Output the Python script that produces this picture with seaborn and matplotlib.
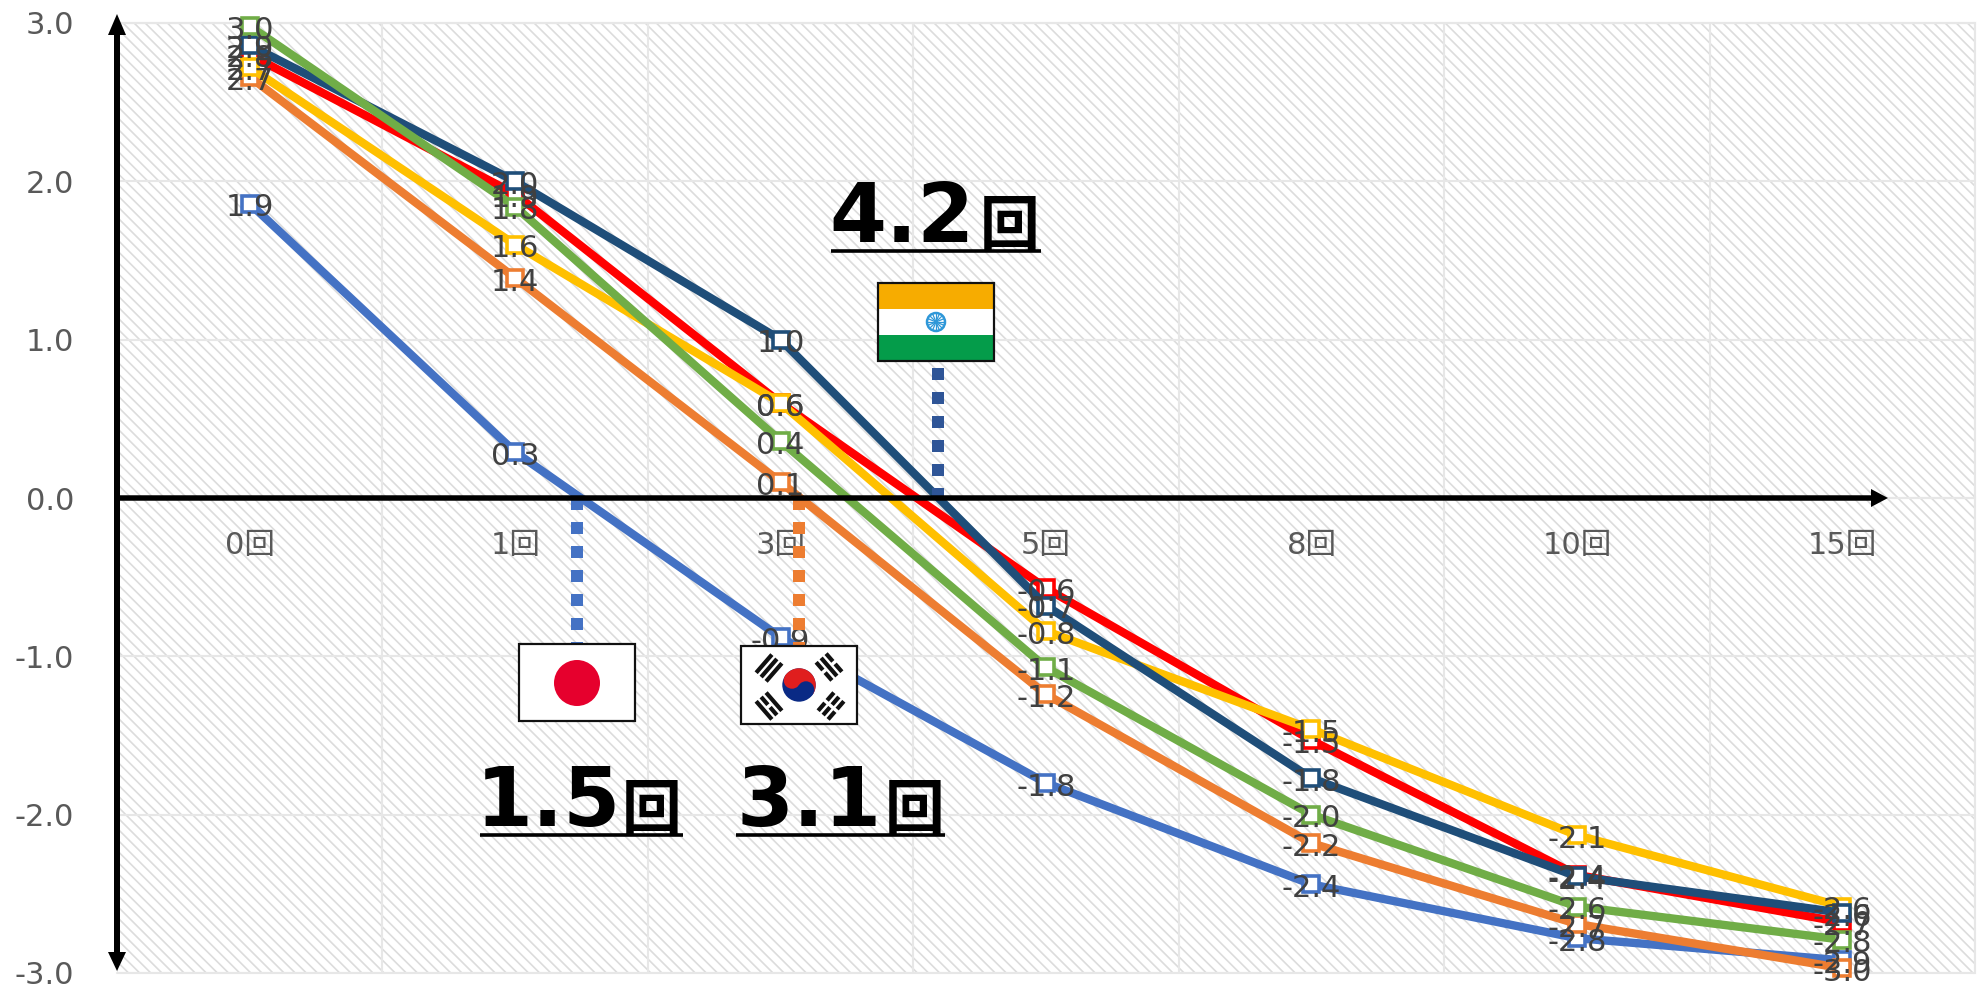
import numpy as np
import pandas as pd
import matplotlib
matplotlib.use("Agg")
import matplotlib.pyplot as plt
from matplotlib.patches import Rectangle, Circle, Polygon
import seaborn as sns

# Vaccination doses on the x axis, one series per country
doses = ["0回", "1回", "3回", "5回", "8回", "10回", "15回"]
japan = [1.86, 0.29, -0.88, -1.80, -2.44, -2.78, -2.92]
korea = [2.66, 1.39, 0.10, -1.24, -2.18, -2.69, -2.97]
series_d = [2.80, 1.92, 0.60, -0.57, -1.53, -2.38, -2.68]
series_c = [2.72, 1.60, 0.60, -0.84, -1.46, -2.13, -2.58]
india = [2.86, 2.00, 1.00, -0.68, -1.77, -2.39, -2.62]
series_f = [2.98, 1.84, 0.36, -1.07, -2.00, -2.58, -2.79]
series_values = {"japan": japan, "korea": korea, "d": series_d,
                 "c": series_c, "india": india, "f": series_f}
series_colors = {"japan": "#4472C4", "korea": "#ED7D31", "c": "#FFC000",
                 "d": "#FF0000", "india": "#1F4E79", "f": "#70AD47"}
y_ticks = [-3, -2, -1, 0, 1, 2, 3]

W, H = 1980, 986
TEXT_FONT = ["DejaVu Sans", "Noto Sans CJK JP"]

sns.set_theme(style="white")
plt.rcParams["font.family"] = TEXT_FONT
plt.rcParams["hatch.linewidth"] = 1.2
plt.rcParams["axes.unicode_minus"] = False

df = pd.DataFrame(
    [(name, d, v) for name, vals in series_values.items() for d, v in zip(doses, vals)],
    columns=["series", "dose", "value"],
)

fig = plt.figure(figsize=(W / 100, H / 100), dpi=100, facecolor="white")
L, R, T, B = 117, 1975, 23, 973
ax = fig.add_axes([L / W, 1 - B / H, (R - L) / W, (B - T) / H])

ax.patch.set_facecolor("white")
ax.patch.set_edgecolor("#dcdcdc")
ax.patch.set_hatch("\\\\\\")
ax.patch.set_linewidth(0)

sns.lineplot(data=df, x="dose", y="value", hue="series", hue_order=list(series_values),
             palette=series_colors, sort=False, legend=False, estimator=None,
             marker="s", markersize=11.5, linewidth=6, ax=ax, zorder=3, clip_on=False)
for line in ax.lines:
    line.set_markerfacecolor("white")
    line.set_markeredgecolor(line.get_color())
    line.set_markeredgewidth(2.6)

# Value labels sit right on top of the markers
for name, vals in series_values.items():
    for i, v in enumerate(vals):
        ax.annotate(f"{v:.1f}", (i, v), xytext=(0, -3), textcoords="offset points",
                    ha="center", va="center", fontsize=22, color="#404040",
                    zorder=6, annotation_clip=False)

ax.set_xlim(-0.5, 6.5)
ax.set_ylim(-3, 3)
ax.set_xlabel("")
ax.set_ylabel("")
ax.set_yticks(y_ticks)
ax.set_yticklabels([f"{t:.1f}" for t in y_ticks])
ax.set_xticks(range(len(doses)))
ax.set_xticklabels(doses)
ax.set_xticks(np.arange(-0.5, 7, 0.5), minor=True)
ax.tick_params(axis="y", length=0, pad=31, labelsize=22, labelcolor="#595959")
ax.tick_params(axis="x", which="both", length=0, pad=24, labelsize=22, labelcolor="#595959")
ax.grid(True, which="major", axis="y", color="#e7e7e7", lw=1.5, zorder=1)
ax.grid(True, which="minor", axis="x", color="#e7e7e7", lw=1.5, zorder=1)
ax.set_axisbelow(True)
for side, spine in ax.spines.items():
    spine.set_color("#e7e7e7")
    spine.set_linewidth(1.5)
ax.spines["left"].set_visible(False)
ax.spines["bottom"].set_position(("data", 0))
ax.plot([0, 1], [0, 0], transform=ax.transAxes, color="#e7e7e7", lw=1.5, zorder=1, clip_on=False)
ax.plot([0, 1], [1, 1], transform=ax.transAxes, color="#e7e7e7", lw=1.5, zorder=1, clip_on=False)

# Overlay in pixel coordinates for the axis arrows, call-outs and flags
ov = fig.add_axes([0, 0, 1, 1])
ov.set_xlim(0, W)
ov.set_ylim(H, 0)
ov.axis("off")
ov.patch.set_visible(False)


def px_lw(px):
    return px * 72 / 100


def drop_line(x, y0, y1, color):
    ov.plot([x, x], [y0, y1], color=color, lw=px_lw(12), dash_capstyle="butt",
            dashes=(1.0, 1.0), zorder=0.5)


def flag_frame(x0, y0, x1, y1, face="white"):
    ov.add_patch(Rectangle((x0, y0), x1 - x0, y1 - y0, facecolor=face, edgecolor="none", zorder=3))


def flag_border(x0, y0, x1, y1):
    ov.add_patch(Rectangle((x0, y0), x1 - x0, y1 - y0, facecolor="none",
                           edgecolor="#111111", lw=px_lw(2.2), zorder=5))


def callout(x_num, x_kai, base, num, ux0, ux1):
    ov.text(x_num, base, num, fontsize=59, fontweight="bold", color="black",
            family="DejaVu Sans", ha="left", va="baseline", zorder=7)
    ov.text(x_kai, base + 3, "回", fontsize=43, fontweight="bold", color="black",
            family="Noto Sans CJK JP", ha="left", va="baseline", zorder=7)
    ov.plot([ux0, ux1], [base + 9, base + 9], color="black", lw=px_lw(3.6),
            solid_capstyle="butt", zorder=7)


def bar(cx, cy, angle, offset, t0, t1, thick=4.2):
    # One rectangle of a trigram: offset runs along the radial direction
    r = np.array([np.cos(angle), np.sin(angle)])
    t = np.array([-r[1], r[0]])
    c = np.array([cx, cy]) + r * offset
    pts = [c + t * t0 - r * thick / 2, c + t * t1 - r * thick / 2,
           c + t * t1 + r * thick / 2, c + t * t0 + r * thick / 2]
    ov.add_patch(Polygon(pts, closed=True, facecolor="#111111", edgecolor="none", zorder=4))


def trigram(cx, cy, angle, broken):
    half, gap = 12, 1.7
    for k, is_broken in zip((-6.6, 0, 6.6), broken):
        if is_broken:
            bar(cx, cy, angle, k, -half, -gap)
            bar(cx, cy, angle, k, gap, half)
        else:
            bar(cx, cy, angle, k, -half, half)


# Crossing markers
drop_line(577, 498, 643, "#4472C4")
drop_line(799, 498, 646, "#ED7D31")
drop_line(938, 368, 498, "#2F5597")

# Axis arrows
ov.plot([117, 117], [30, 955], color="black", lw=px_lw(6), solid_capstyle="butt", zorder=1)
ov.plot([117, 1873], [498, 498], color="black", lw=px_lw(5.5), solid_capstyle="butt", zorder=1)
ov.add_patch(Polygon([(117, 14), (108, 35), (126, 35)], closed=True, fc="black", ec="none", zorder=1))
ov.add_patch(Polygon([(117, 971), (108, 952), (126, 952)], closed=True, fc="black", ec="none", zorder=1))
ov.add_patch(Polygon([(1888, 498), (1871, 489), (1871, 507)], closed=True, fc="black", ec="none", zorder=1))

# Japan
flag_frame(519, 644, 635, 721)
ov.add_patch(Circle((577, 683), 23, fc="#E6002D", ec="none", zorder=4))
flag_border(519, 644, 635, 721)

# South Korea
flag_frame(741, 646, 857, 724)
kc = np.array([799.0, 685.0])
kr = 16.7
tilt = np.radians(33.7)
kt = np.linspace(0, np.pi, 80)
ku = np.array([np.cos(tilt), np.sin(tilt)])
kn = np.array([np.sin(tilt), -np.cos(tilt)])
ov.add_patch(Circle(kc, kr, fc="#0A2A85", ec="none", zorder=4))
arc = np.array([kc + kr * (np.cos(a) * ku + np.sin(a) * kn) for a in kt])
ov.add_patch(Polygon(arc, closed=True, fc="#E01E1E", ec="none", zorder=4))
ov.add_patch(Circle(kc - ku * kr / 2, kr / 2, fc="#E01E1E", ec="none", zorder=4))
ov.add_patch(Circle(kc + ku * kr / 2, kr / 2, fc="#0A2A85", ec="none", zorder=4))
a = np.radians(41)
trigram(769, 668, a, (False, False, False))
trigram(829, 667, np.pi - a, (True, False, True))
trigram(769, 706, -a, (False, True, False))
trigram(831, 706, np.pi + a, (True, True, True))
flag_border(741, 646, 857, 724)

# India
flag_frame(878, 283, 994, 361)
ov.add_patch(Rectangle((878, 283), 116, 26, fc="#F7AC00", ec="none", zorder=3))
ov.add_patch(Rectangle((878, 335), 116, 26, fc="#049C4A", ec="none", zorder=3))
ov.add_patch(Circle((936, 322), 9, fc="white", ec="#2E97D8", lw=px_lw(2.5), zorder=4))
for ang in np.linspace(0, np.pi, 8, endpoint=False):
    dx, dy = 9 * np.cos(ang), 9 * np.sin(ang)
    ov.plot([936 - dx, 936 + dx], [322 - dy, 322 + dy], color="#2E97D8", lw=0.9, zorder=4)
flag_border(878, 283, 994, 361)

# Dose-count call-outs
callout(476, 622, 826, "1.5", 480, 683)
callout(736, 885, 826, "3.1", 736, 945)
callout(829, 980, 242, "4.2", 831, 1041)

fig.savefig("out.png", dpi=100, facecolor="white")
